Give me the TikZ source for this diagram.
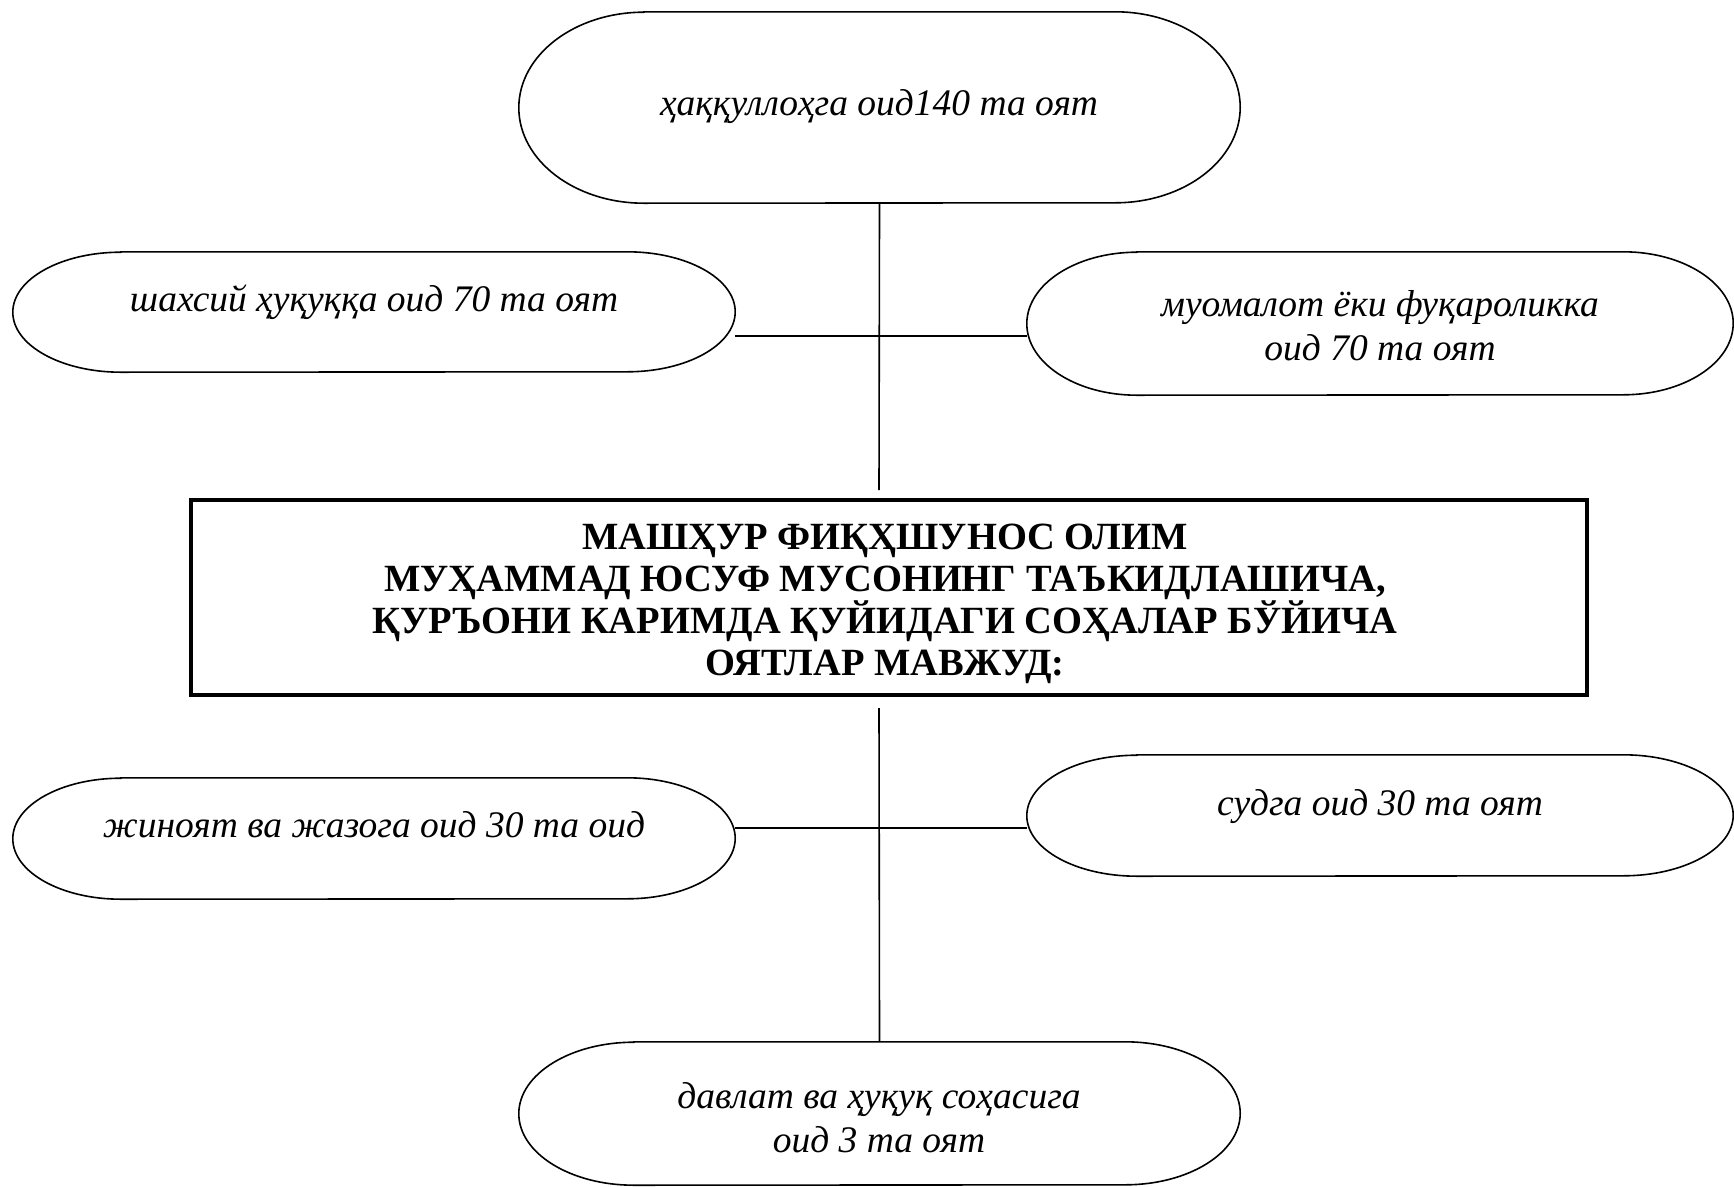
\documentclass[tikz,border=0pt]{standalone}
\usepackage{fontspec}
\setmainfont{Liberation Serif}
\newcommand\stadium[3]{% node name, x radius, y radius
  \draw[stadline] ([xshift=#2]#1.north west) -- ([xshift=-#2]#1.north east)
    arc[start angle=90,end angle=-90,x radius=#2,y radius=#3]
    -- ([xshift=#2]#1.south west)
    arc[start angle=270,end angle=90,x radius=#2,y radius=#3] -- cycle;}
\begin{document}
\begin{tikzpicture}[x=1pt,y=1pt,
  lbl/.style={font=\fontsize{37.5}{44}\selectfont\itshape, align=center, inner sep=0pt},
  hdr/.style={font=\fontsize{38.5}{42}\selectfont\bfseries, align=center, inner sep=0pt},
  shapebox/.style={draw=none, inner sep=0pt},
  stadline/.style={line width=1.6pt},
  conn/.style={line width=1.6pt}]
\useasboundingbox (0,0) rectangle (1734,-1186);
\fill[white] (0,0) rectangle (1734,-1186);

% shapes
\node[shapebox, minimum width=721pt, minimum height=191pt] (top) at (879.5,-107.5) {};
\node[shapebox, minimum width=722pt, minimum height=120pt] (l1) at (374,-312) {};
\node[shapebox, minimum width=706pt, minimum height=143pt] (r1) at (1380,-323.5) {};
\node[draw, line width=4.5pt, minimum width=1396pt, minimum height=195pt, inner sep=0pt] (box) at (889,-597.5) {};
\node[shapebox, minimum width=722pt, minimum height=121pt] (l2) at (374,-838.5) {};
\node[shapebox, minimum width=706pt, minimum height=121pt] (r2) at (1380,-815.5) {};
\node[shapebox, minimum width=721pt, minimum height=143pt] (bot) at (879.5,-1113.5) {};

\stadium{top}{125}{95.5}
\stadium{l1}{108}{60}
\stadium{r1}{110}{71.5}
\stadium{l2}{108}{60.5}
\stadium{r2}{110}{60.5}
\stadium{bot}{115}{71.5}

% texts
\node[lbl] (topt) at (879,-107) {ҳаққуллоҳга оид140 та оят};
\node[lbl] (l1t) at (374,-302) {шахсий ҳуқуққа оид 70 та оят};
\node[lbl] (r1t) at (1380,-326) {муомалот ёки фуқароликка\\оид 70 та оят};
\node[hdr] (boxt) at (885,-604) {МАШҲУР ФИҚҲШУНОС ОЛИМ\\МУҲАММАД ЮСУФ МУСОНИНГ ТАЪКИДЛАШИЧА,\\ҚУРЪОНИ КАРИМДА ҚУЙИДАГИ СОҲАЛАР БЎЙИЧА\\ОЯТЛАР МАВЖУД:};
\node[lbl] (l2t) at (374,-825) {жиноят ва жазога оид 30 та оид};
\node[lbl] (r2t) at (1380,-807) {судга оид 30 та оят};
\node[lbl] (bott) at (879,-1118) {давлат ва ҳуқуқ соҳасига\\оид 3 та оят};

% connectors
\coordinate (c1) at (879,-490);
\coordinate (c2) at (879,-708);
\coordinate (h1) at (879,-336);
\coordinate (h2) at (879,-828);
\draw[conn] (top.south) -- (c1);
\draw[conn] (l1.east |- h1) -- (r1.west |- h1);
\draw[conn] (c2) -- (bot.north);
\draw[conn] (l2.east |- h2) -- (r2.west |- h2);
\end{tikzpicture}
\end{document}
